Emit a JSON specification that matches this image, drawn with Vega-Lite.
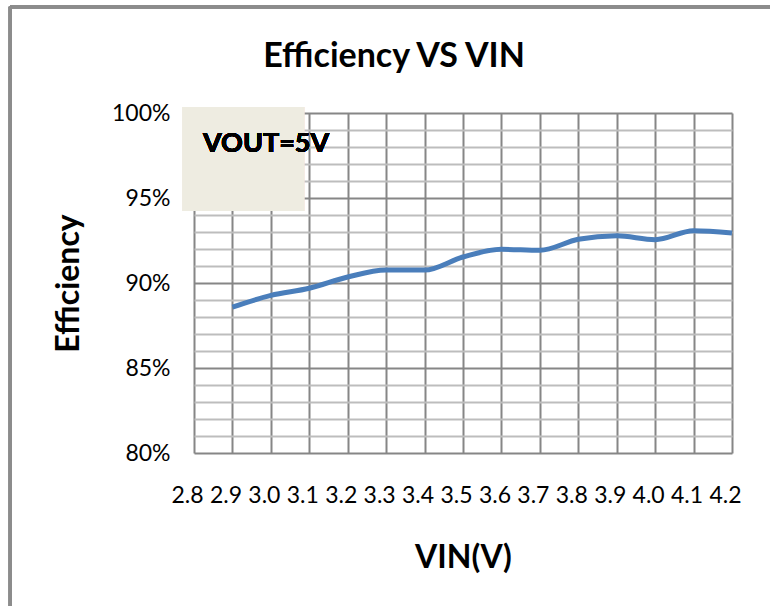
{
  "$schema": "https://vega.github.io/schema/vega-lite/v6.json",
  "autosize": {"type": "none"},
  "padding": {"left": 194, "top": 113, "right": 38, "bottom": 153},
  "width": 538,
  "height": 340,
  "background": "white",
  "config": {
    "font": "Lato",
    "view": {"stroke": null},
    "axis": {"labelFont": "Lato", "titleFont": "Lato", "labelColor": "black", "titleColor": "black"}
  },
  "title": {
    "text": "Efficiency VS VIN",
    "font": "Lato",
    "fontSize": 34,
    "fontWeight": "bold",
    "color": "black",
    "anchor": "middle",
    "dx": -69,
    "baseline": "alphabetic",
    "offset": -96
  },
  "data": {
    "values": [
      {"vin": 2.9, "eff": 0.8858},
      {"vin": 3.0, "eff": 0.8927},
      {"vin": 3.1, "eff": 0.8969},
      {"vin": 3.2, "eff": 0.9035},
      {"vin": 3.3, "eff": 0.9076},
      {"vin": 3.4, "eff": 0.9076},
      {"vin": 3.5, "eff": 0.9153},
      {"vin": 3.6, "eff": 0.9198},
      {"vin": 3.7, "eff": 0.9192},
      {"vin": 3.8, "eff": 0.9257},
      {"vin": 3.9, "eff": 0.9278},
      {"vin": 4.0, "eff": 0.9255},
      {"vin": 4.1, "eff": 0.9308},
      {"vin": 4.2, "eff": 0.9294}
    ]
  },
  "resolve": {"axis": {"x": "independent", "y": "independent"}},
  "layer": [
    {
      "mark": {"type": "rule", "color": "#8c8c8c", "strokeWidth": 3, "clip": false},
      "encoding": {
        "x": {"datum": 2.322, "type": "quantitative", "scale": {"domain": [2.8, 4.2], "nice": false, "zero": false}, "axis": null},
        "x2": {"datum": 4.5},
        "y": {"datum": 1.0625, "type": "quantitative", "scale": {"domain": [0.8, 1.0], "nice": false, "zero": false}, "axis": null}
      }
    },
    {
      "mark": {"type": "rule", "color": "#8c8c8c", "strokeWidth": 3, "clip": false},
      "encoding": {
        "x": {"datum": 2.322, "type": "quantitative", "scale": {"domain": [2.8, 4.2], "nice": false, "zero": false}, "axis": null},
        "y": {"datum": 1.0625, "type": "quantitative", "scale": {"domain": [0.8, 1.0], "nice": false, "zero": false}, "axis": null},
        "y2": {"datum": 0.65}
      }
    },
    {
      "mark": {"type": "line", "color": "#4a7ebb", "strokeWidth": 5, "interpolate": "monotone"},
      "encoding": {
        "x": {
          "field": "vin", "type": "quantitative",
          "scale": {"domain": [2.8, 4.2], "nice": false, "zero": false},
          "axis": {
            "values": [2.8, 2.9, 3.0, 3.1, 3.2, 3.3, 3.4, 3.5, 3.6, 3.7, 3.8, 3.9, 4.0, 4.1, 4.2],
            "format": ".1f",
            "grid": true, "gridColor": "#868686", "gridWidth": 2, "gridOpacity": 1,
            "domain": false, "ticks": false,
            "labelFontSize": 23, "labelPadding": 31, "labelOffset": -7,
            "labelOverlap": false, "labelFlush": false, "labelBound": false,
            "title": "VIN(V)", "titleFontSize": 32, "titleFontWeight": "bold",
            "titleBaseline": "alphabetic", "titleY": 114
          }
        },
        "y": {
          "field": "eff", "type": "quantitative",
          "scale": {"domain": [0.8, 1.0], "nice": false, "zero": false},
          "axis": {
            "orient": "right",
            "values": [0.81, 0.82, 0.83, 0.84, 0.86, 0.87, 0.88, 0.89, 0.91, 0.92, 0.93, 0.94, 0.96, 0.97, 0.98, 0.99],
            "grid": true, "gridColor": "#bdbdbd", "gridWidth": 2, "gridOpacity": 1,
            "labels": false, "ticks": false, "domain": false, "title": null
          }
        }
      }
    },
    {
      "mark": {"type": "rect", "color": "#eeece1", "clip": false},
      "encoding": {
        "x": {"datum": 2.7706, "type": "quantitative", "scale": {"domain": [2.8, 4.2], "nice": false, "zero": false}, "axis": null},
        "x2": {"datum": 3.0865},
        "y": {
          "datum": 1.0035, "type": "quantitative",
          "scale": {"domain": [0.8, 1.0], "nice": false, "zero": false},
          "axis": {
            "orient": "left",
            "values": [0.8, 0.85, 0.9, 0.95, 1.0],
            "format": ".0%",
            "grid": true, "gridColor": "#868686", "gridWidth": 2, "gridOpacity": 1,
            "domain": false, "ticks": false,
            "labelFontSize": 23, "labelPadding": 24,
            "title": "Efficiency", "titleFontSize": 32, "titleFontWeight": "bold",
            "titleAngle": -90, "titleAlign": "center", "titleBaseline": "middle",
            "titleX": -126, "titleY": 170
          }
        },
        "y2": {"datum": 0.94235}
      }
    },
    {
      "mark": {"type": "text", "font": "Lato", "fontSize": 27, "fontWeight": "bold", "color": "black", "align": "left", "baseline": "alphabetic", "clip": false},
      "encoding": {
        "x": {"datum": 2.8234, "type": "quantitative", "scale": {"domain": [2.8, 4.2], "nice": false, "zero": false}, "axis": null},
        "y": {"datum": 0.97688, "type": "quantitative", "scale": {"domain": [0.8, 1.0], "nice": false, "zero": false}, "axis": null},
        "text": {"value": "VOUT=5V"}
      }
    }
  ]
}
